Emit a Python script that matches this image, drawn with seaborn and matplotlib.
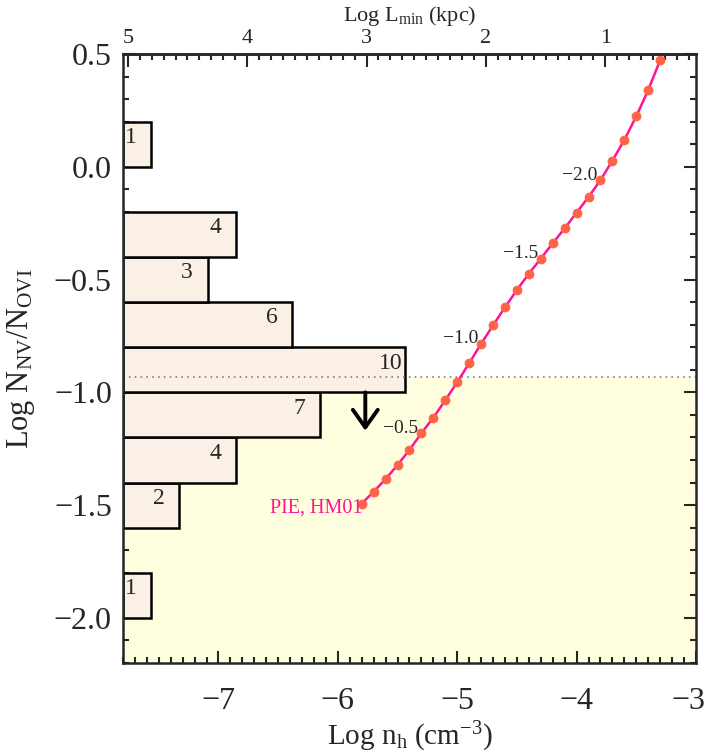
import numpy as np
import matplotlib
matplotlib.use("Agg")
import matplotlib.pyplot as plt
import matplotlib.transforms as mtransforms
import seaborn as sns
from matplotlib.ticker import MultipleLocator, FixedLocator, FuncFormatter

sns.set_style("ticks")
plt.rcParams.update({
    "font.family": ["Liberation Serif", "DejaVu Serif"],
    "mathtext.fontset": "custom",
    "mathtext.rm": "Liberation Serif",
    "mathtext.it": "Liberation Serif:italic",
    "axes.linewidth": 1.8,
})

# histogram of observed log N(NV)/N(OVI)
bin_edges = np.arange(-2.0, 0.21, 0.2)
bin_counts = [1, 0, 2, 4, 7, 10, 6, 3, 4, 0, 1]

# PIE (HM01) model track
log_nh = [-5.8, -5.7, -5.6, -5.5, -5.4, -5.3, -5.2, -5.1, -5.0, -4.9, -4.8,
          -4.7, -4.6, -4.5, -4.4, -4.3, -4.2, -4.1, -4.0, -3.9, -3.8,
          -3.7, -3.6, -3.5, -3.4, -3.3]
log_ratio = [-1.493, -1.441, -1.384, -1.322, -1.255, -1.181, -1.112, -1.035,
             -0.955, -0.871, -0.785, -0.703, -0.623, -0.546, -0.474, -0.407,
             -0.339, -0.273, -0.203, -0.134, -0.059, 0.027, 0.119, 0.224,
             0.340, 0.473]

# ionisation parameter labels along the track
logu_nh = [-5.3, -4.8, -4.3, -3.8]
logu_labels = ["\u22120.5", "\u22121.0", "\u22121.5", "\u22122.0"]

# observed limit
ovi_limit = -0.933
arrow_nh = -5.77
arrow_top, arrow_tip = -1.0, -1.17

xmin, xmax = -7.8, -3.0
ymin, ymax = -2.2, 0.5
count_scale = 0.236   # dex per count
lmin_offset = -2.76   # Log L_min = offset - Log n_h
lmin_ticks = [5, 4, 3, 2, 1]


def minus(fmt):
    return FuncFormatter(lambda v, p: (fmt % v).replace("-", "\u2212"))


fig = plt.figure(figsize=(7.06, 7.53), dpi=100)
ax = fig.add_axes([0.1742, 0.1195, 0.8116, 0.8088])

# shaded allowed region
ax.axhspan(ymin, ovi_limit, color="#FFFFE0", zorder=0, lw=0)

# histogram bars
for lo, n in zip(bin_edges[:-1], bin_counts):
    if n == 0:
        continue
    ax.barh(lo, n * count_scale, height=0.2, left=xmin, align="edge",
            color="#FAF0E6", edgecolor="black", linewidth=1.8, zorder=2)
    ax.text(xmin + n * count_scale - 0.22, lo + 0.13, str(n),
            fontsize=17, ha="left", va="center", zorder=3)

ax.axhline(ovi_limit, color="gray", ls=(0, (1, 2.5)), lw=1.2, zorder=4)

ax.annotate("", xy=(arrow_nh, arrow_tip), xytext=(arrow_nh, arrow_top),
            arrowprops=dict(arrowstyle="->,head_length=0.45,head_width=0.32",
                            lw=2.8, color="black", mutation_scale=28,
                            shrinkA=0, shrinkB=0),
            zorder=5)

sns.lineplot(x=log_nh, y=log_ratio, ax=ax, color="#FF1493", lw=1.8,
             marker="o", markersize=6.3, markerfacecolor="#FF6347",
             markeredgecolor="#FF6347", zorder=6)

for xv, lab in zip(logu_nh, logu_labels):
    yv = log_ratio[log_nh.index(xv)]
    ax.text(xv - 0.025, yv + 0.022, lab, fontsize=14, ha="right",
            va="center", zorder=7)

ax.text(log_nh[0] + 0.01, log_ratio[0] - 0.02, "PIE, HM01", color="#FF1493",
        fontsize=14.5, ha="right", va="center", zorder=7)

ax.set_xlim(xmin, xmax)
ax.set_ylim(ymin, ymax)
ax.xaxis.set_major_locator(MultipleLocator(1))
ax.xaxis.set_minor_locator(MultipleLocator(0.1))
ax.xaxis.set_major_formatter(minus("%d"))
ax.yaxis.set_major_locator(MultipleLocator(0.5))
ax.yaxis.set_minor_locator(MultipleLocator(0.1))
ax.yaxis.set_major_formatter(minus("%.1f"))
ax.tick_params(which="both", direction="in", right=True, top=False,
               width=1.5, labelsize=23)
ax.tick_params(which="major", length=9)
ax.tick_params(which="minor", length=4.5)
ax.tick_params(axis="x", pad=17)
ax.tick_params(axis="y", pad=8)

for s in ax.spines.values():
    s.set_visible(True)
    s.set_zorder(10)

ax.set_xlabel(r"Log n$_\mathrm{h}$ (cm$^{-3}$)", fontsize=21, labelpad=3)
ax.set_ylabel(r"Log N$_\mathrm{NV}$/N$_\mathrm{OVI}$", fontsize=22, labelpad=12)

top = ax.secondary_xaxis("top", functions=(lambda x: lmin_offset - x,
                                           lambda l: lmin_offset - l))
top.xaxis.set_major_locator(FixedLocator(lmin_ticks))
top.xaxis.set_minor_locator(MultipleLocator(0.1))
top.tick_params(which="both", direction="in", width=1.5, labelsize=16, pad=4)
top.tick_params(which="major", length=9)
top.tick_params(which="minor", length=4.5)
top.set_xlabel(r"Log L$_\mathrm{min}$ (kpc)", fontsize=16, labelpad=6)

# keep the last bottom label inside the canvas
fig.canvas.draw()
shift = mtransforms.ScaledTranslation(-8 / 100, 0, fig.dpi_scale_trans)
for t in ax.xaxis.get_major_ticks():
    if abs(t.get_loc() - xmax) < 1e-6:
        t.label1.set_transform(t.label1.get_transform() + shift)

fig.savefig("out.png", dpi=100)
